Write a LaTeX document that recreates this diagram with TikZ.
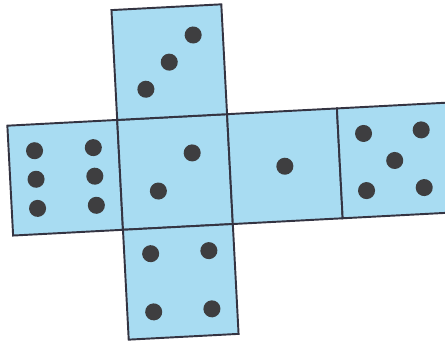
\documentclass[tikz,border=0pt]{standalone}
\usepackage{xcolor}
\usepackage{tikz}
\usetikzlibrary{calc}

\definecolor{netblue}{RGB}{168,220,242}
\definecolor{pipgray}{RGB}{62,62,64}
\definecolor{edgegray}{RGB}{52,52,66}

\tikzset{
    face/.style={fill=netblue, draw=edgegray, line width=1pt},
    pip/.style={fill=pipgray}
}

\begin{document}
\begin{tikzpicture}

    % khung của hình
    \useasboundingbox (0,0) rectangle (8.091,6.182);
    \clip (0,0) rectangle (8.091,6.182);

    % =================================================================
    % HÌNH TRẢI CỦA CON XÚC XẮC (hơi nghiêng)
    % =================================================================
    \begin{scope}[shift={(3.182,3.055)}, rotate=3]
        % Các mặt
        \draw[face] (-3,-1) rectangle (-1,1);
        \draw[face] (-1,-1) rectangle (1,1);
        \draw[face] (1,-1) rectangle (3,1);
        \draw[face] (3,-1) rectangle (5,1);
        \draw[face] (-1,1) rectangle (1,3);
        \draw[face] (-1,-3) rectangle (1,-1);

        % Mặt trên: 3 chấm
        \foreach \x/\y in {-0.45/-0.47, 0/0, 0.46/0.47} {
            \fill[pip] (\x,2+\y) circle (0.155);
        }

        % Mặt giữa: 2 chấm
        \foreach \x/\y in {-0.32/-0.33, 0.33/0.33} {
            \fill[pip] (\x,\y) circle (0.155);
        }

        % Mặt trái: 6 chấm
        \foreach \x in {-0.53, 0.54} {
            \foreach \y in {-0.53, 0, 0.52} {
                \fill[pip] (-2+\x,\y) circle (0.155);
            }
        }

        % Mặt phải thứ nhất: 1 chấm
        \fill[pip] (2,0) circle (0.155);

        % Mặt phải thứ hai: 5 chấm
        \foreach \x/\y in {-0.54/0.52, 0.51/0.53, 0/0, -0.54/-0.52, 0.51/-0.52} {
            \fill[pip] (4+\x,\y) circle (0.155);
        }

        % Mặt dưới: 4 chấm
        \foreach \x/\y in {-0.52/0.54, 0.54/0.54, -0.52/-0.52, 0.54/-0.52} {
            \fill[pip] (\x,-2+\y) circle (0.155);
        }
    \end{scope}

\end{tikzpicture}
\end{document}
